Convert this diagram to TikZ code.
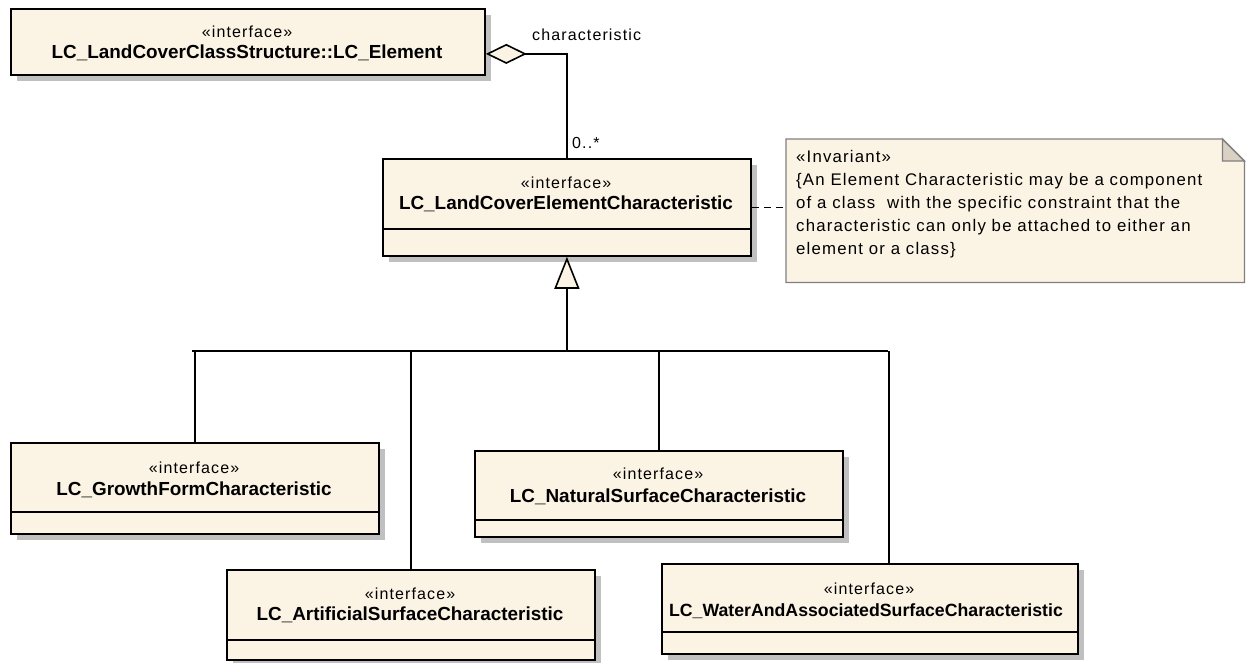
\documentclass[tikz,border=0pt]{standalone}
\usepackage{fontspec}
\setmainfont{Liberation Sans}
\newfontfamily\stfont[LetterSpace=7]{Liberation Sans}
\usetikzlibrary{arrows.meta,shadows}
\definecolor{boxfill}{RGB}{251,243,228}
\definecolor{shadowc}{RGB}{192,192,192}
\definecolor{notefill}{RGB}{251,243,228}
\definecolor{noteline}{RGB}{128,128,128}
\definecolor{foldfill}{RGB}{217,209,195}
\begin{document}
\begin{tikzpicture}[x=1pt,y=-1pt,
  cls/.style={draw=black, line width=1.8pt, fill=boxfill, anchor=north west, inner sep=0pt,
    drop shadow={shadow xshift=6pt, shadow yshift=-6pt, fill=shadowc, opacity=1}},
  st/.style={font=\stfont\fontsize{16}{19}\selectfont, inner sep=0pt},
  nm/.style={font=\fontsize{18.9}{22}\selectfont\bfseries, inner sep=0pt},
  lbl/.style={font=\stfont\fontsize{16}{19}\selectfont, inner sep=0pt},
  conn/.style={draw=black, line width=1.6pt},
  sep/.style={draw=black, line width=1.8pt}]
\useasboundingbox (0,0) rectangle (1247,662);

% LC_Element
\node[cls, minimum width=474pt, minimum height=66pt] (e1) at (10,8) {};
\node[st] (e1s) at (247,32) {«interface»};
\node[nm] (e1n) at (247,53) {LC\_LandCoverClassStructure::LC\_Element};

% LC_LandCoverElementCharacteristic
\node[cls, minimum width=368pt, minimum height=97pt] (c2) at (382,158) {};
\node[st] (c2s) at (566,183) {«interface»};
\node[nm] (c2n) at (566,204) {LC\_LandCoverElementCharacteristic};
\draw[sep] ([yshift=-71pt]c2.north west) -- ([yshift=-71pt]c2.north east);

% Growth form
\node[cls, minimum width=368pt, minimum height=91pt] (g) at (10,442) {};
\node[st] (gs) at (194,468) {«interface»};
\node[nm] (gn) at (194,490) {LC\_GrowthFormCharacteristic};
\draw[sep] ([yshift=-70pt]g.north west) -- ([yshift=-70pt]g.north east);

% Natural surface
\node[cls, minimum width=368pt, minimum height=86pt] (ns) at (474,450) {};
\node[st] (nss) at (658,474) {«interface»};
\node[nm] (nsn) at (658,497) {LC\_NaturalSurfaceCharacteristic};
\draw[sep] ([yshift=-70pt]ns.north west) -- ([yshift=-70pt]ns.north east);

% Artificial surface
\node[cls, minimum width=368pt, minimum height=90pt] (ar) at (226,569) {};
\node[st] (ars) at (410,594) {«interface»};
\node[nm] (arn) at (410,615) {LC\_ArtificialSurfaceCharacteristic};
\draw[sep] ([yshift=-71pt]ar.north west) -- ([yshift=-71pt]ar.north east);

% Water
\node[cls, minimum width=416pt, minimum height=90pt] (w) at (661,563) {};
\node[st] (ws) at (869,589) {«interface»};
\node[nm, font=\fontsize{17.7}{21}\selectfont\bfseries] (wn) at (866,611) {LC\_WaterAndAssociatedSurfaceCharacteristic};
\draw[sep] ([yshift=-69pt]w.north west) -- ([yshift=-69pt]w.north east);

% Note
\node[draw=none, minimum width=458pt, minimum height=143pt, anchor=north west, inner sep=0pt] (n) at (786,139) {};
\path[draw=noteline, fill=notefill, line width=1.3pt]
  (n.north west) -- ([xshift=-22pt]n.north east) -- ([yshift=-22pt]n.north east)
  -- (n.south east) -- (n.south west) -- cycle;
\path[draw=noteline, fill=foldfill, line width=1.3pt]
  ([xshift=-22pt]n.north east) -- ([xshift=-22pt,yshift=-22pt]n.north east)
  -- ([yshift=-22pt]n.north east) -- cycle;
\node[anchor=north west, inner sep=0pt, align=left, font=\stfont\fontsize{16.8}{23}\selectfont] (nt) at (796,150)
  {«Invariant»\\
   \{An Element Characteristic may be a component\\
   of a class\ \ with the specific constraint that the\\
   characteristic can only be attached to either an\\
   element or a class\}};

% Note connector
\draw[draw=black, line width=1.6pt, dash pattern=on 7pt off 5pt] (c2.east) -- (c2.east -| n.west);

% Aggregation
\coordinate (a1) at ([yshift=-12pt]e1.east);
\draw[conn, {Diamond[length=41pt,width=20pt,fill=boxfill]}-] (a1) -| (c2.north);
\node[lbl, anchor=west] (lchar) at (532,35) {characteristic};
\node[lbl, anchor=west] (lmult) at (572,143) {0..*};

% Generalization
\coordinate (bl) at (192,351);
\coordinate (br) at (888,351);
\coordinate (bm) at (c2.south |- bl);
\draw[conn] (bl) -- (br);
\draw[conn, -{Triangle[length=32pt,width=25pt,fill=boxfill]}] (bm) -- (c2.south);
\draw[conn] (g.north) -- (g.north |- bl);
\draw[conn] (ar.north) -- (ar.north |- bl);
\draw[conn] (ns.north) -- (ns.north |- bl);
\coordinate (wt) at ([xshift=19pt]w.north);
\draw[conn] (wt) -- (wt |- bl);
\end{tikzpicture}
\end{document}
